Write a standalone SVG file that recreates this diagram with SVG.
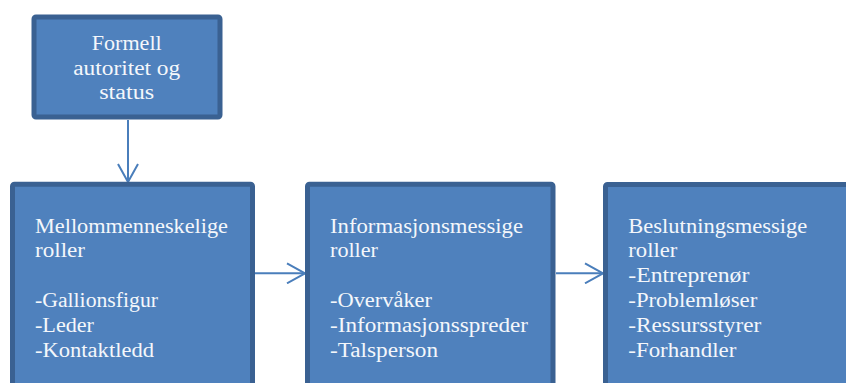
<svg xmlns="http://www.w3.org/2000/svg" width="846" height="383" viewBox="0 0 846 383">
<defs>
<style>
.box{fill:#4F81BD;stroke:#3A6192;stroke-width:5;}
.t{font-family:"Liberation Serif","Times New Roman",serif;font-size:20.5px;fill:#F4F7FB;}
.c{fill:none;stroke:#4A7EBB;stroke-width:2;}
</style>
<marker id="ah" viewBox="0 0 20 22" refX="19" refY="11" markerWidth="20" markerHeight="22" markerUnits="userSpaceOnUse" orient="auto">
<polyline points="1,1 19,11 1,21" fill="none" stroke="#4A7EBB" stroke-width="2"/>
</marker>
</defs>
<rect width="846" height="383" fill="#FFFFFF"/>
<g id="connectors">
<line class="c" x1="128" y1="120" x2="128" y2="182" marker-end="url(#ah)"/>
<line class="c" x1="255" y1="273.3" x2="305" y2="273.3" marker-end="url(#ah)"/>
<line class="c" x1="556" y1="273.3" x2="603" y2="273.3" marker-end="url(#ah)"/>
</g>
<g id="formell">
<rect class="box" x="34" y="17" width="186" height="100" rx="2"/>
<text class="t" x="126.7" y="50" text-anchor="middle" textLength="70" lengthAdjust="spacingAndGlyphs">Formell</text>
<text class="t" x="126.7" y="74.7" text-anchor="middle" textLength="107" lengthAdjust="spacingAndGlyphs">autoritet og</text>
<text class="t" x="126.7" y="99.4" text-anchor="middle" textLength="55" lengthAdjust="spacingAndGlyphs">status</text>
</g>
<g id="mellommenneskelige">
<rect class="box" x="12.5" y="184.2" width="240" height="250" rx="2"/>
<text class="t" x="35" y="233.3" textLength="193" lengthAdjust="spacingAndGlyphs">Mellommenneskelige</text>
<text class="t" x="35" y="257.3" textLength="50" lengthAdjust="spacingAndGlyphs">roller</text>
<text class="t" x="35" y="306.5" textLength="123" lengthAdjust="spacingAndGlyphs">-Gallionsfigur</text>
<text class="t" x="35" y="331.8" textLength="59" lengthAdjust="spacingAndGlyphs">-Leder</text>
<text class="t" x="35" y="357" textLength="119" lengthAdjust="spacingAndGlyphs">-Kontaktledd</text>
</g>
<g id="informasjonsmessige">
<rect class="box" x="307.5" y="184.2" width="245.5" height="250" rx="2"/>
<text class="t" x="330" y="233.3" textLength="193" lengthAdjust="spacingAndGlyphs">Informasjonsmessige</text>
<text class="t" x="330" y="257.3" textLength="48" lengthAdjust="spacingAndGlyphs">roller</text>
<text class="t" x="330" y="306.7" textLength="102" lengthAdjust="spacingAndGlyphs">-Overvåker</text>
<text class="t" x="330" y="332" textLength="198" lengthAdjust="spacingAndGlyphs">-Informasjonsspreder</text>
<text class="t" x="330" y="357.2" textLength="108" lengthAdjust="spacingAndGlyphs">-Talsperson</text>
</g>
<g id="beslutningsmessige">
<rect class="box" x="605.5" y="184.5" width="300" height="250" rx="2"/>
<text class="t" x="628.3" y="233.3" textLength="179" lengthAdjust="spacingAndGlyphs">Beslutningsmessige</text>
<text class="t" x="628.3" y="257.3" textLength="49" lengthAdjust="spacingAndGlyphs">roller</text>
<text class="t" x="628.3" y="282.2" textLength="121" lengthAdjust="spacingAndGlyphs">-Entreprenør</text>
<text class="t" x="628.3" y="306.7" textLength="129" lengthAdjust="spacingAndGlyphs">-Problemløser</text>
<text class="t" x="628.3" y="331.7" textLength="133" lengthAdjust="spacingAndGlyphs">-Ressursstyrer</text>
<text class="t" x="628.3" y="356.7" textLength="108" lengthAdjust="spacingAndGlyphs">-Forhandler</text>
</g>
</svg>
